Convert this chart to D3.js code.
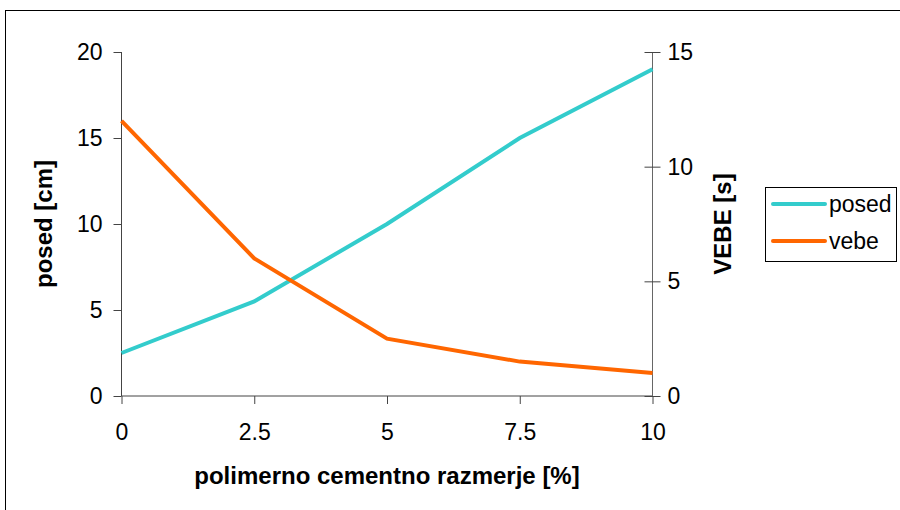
<!DOCTYPE html>
<html><head><meta charset="utf-8">
<script src="https://cdn.jsdelivr.net/npm/d3@7"></script>
<style>body{margin:0;background:#fff}svg{display:block}text{font-family:Arial,"Liberation Sans",sans-serif}</style>
</head><body><div id="c"></div>
<script>
const xValues = [0, 2.5, 5, 7.5, 10];
const posedValues = [2.5, 5.5, 10, 15, 19];
const vebeValues = [12, 6, 2.5, 1.5, 1];
const xTicks = [0, 2.5, 5, 7.5, 10];
const leftTicks = [0, 5, 10, 15, 20];
const rightTicks = [0, 5, 10, 15];
const seriesNames = ["posed", "vebe"];
const colors = ["#33CCCC", "#FF6600"];

const W = 900, H = 510;
const svg = d3.select("#c").append("svg").attr("width", W).attr("height", H);
svg.append("rect").attr("x", 5.5).attr("y", 10.5).attr("width", 900).attr("height", 510)
  .attr("fill", "#fff").attr("stroke", "#000").attr("stroke-width", 1);

const x = d3.scaleLinear().domain([0, 10]).range([121.5, 652.5]);
const yL = d3.scaleLinear().domain([0, 20]).range([396, 52]);
const yR = d3.scaleLinear().domain([0, 15]).range([396, 52]);

const fmt = d => String(d);
const gx = svg.append("g").attr("transform", "translate(0,396)")
  .call(d3.axisBottom(x).tickValues(xTicks).tickFormat(fmt).tickSize(8).tickPadding(20));
const gl = svg.append("g").attr("transform", "translate(121.5,0)")
  .call(d3.axisLeft(yL).tickValues(leftTicks).tickFormat(fmt).tickSize(8).tickPadding(11));
const gr = svg.append("g").attr("transform", "translate(652.5,0)")
  .call(d3.axisRight(yR).tickValues(rightTicks).tickFormat(fmt).tickSize(8).tickPadding(7));
gr.selectAll(".tick line").attr("x1", -8);
[gx, gl, gr].forEach(g => {
  g.select(".domain").attr("stroke", "#444");
  g.selectAll(".tick line").attr("stroke", "#444");
  g.selectAll(".tick text").attr("font-size", 23).attr("fill", "#000")
    .style("font-family", "Arial, 'Liberation Sans', sans-serif");
});
gl.select(".domain").attr("d", "M0,52V396");
gx.select(".domain").attr("d", "M121.5,0H652.5");
gr.select(".domain").attr("d", "M0,52V396").attr("stroke", "#666");

const line = (ys) => d3.line().x((d, i) => x(xValues[i])).y(d => ys(d));
svg.append("path").datum(posedValues).attr("d", line(yL)).attr("fill", "none")
  .attr("stroke", colors[0]).attr("stroke-width", 4);
svg.append("path").datum(vebeValues).attr("d", line(yR)).attr("fill", "none")
  .attr("stroke", colors[1]).attr("stroke-width", 4);

svg.append("text").attr("x", 387).attr("y", 484).attr("text-anchor", "middle")
  .attr("font-size", 24).attr("font-weight", "bold").text("polimerno cementno razmerje [%]");
svg.append("text").attr("transform", "translate(52,224) rotate(-90)").attr("text-anchor", "middle")
  .attr("font-size", 24).attr("font-weight", "bold").text("posed [cm]");
svg.append("text").attr("transform", "translate(731,224) rotate(-90)").attr("text-anchor", "middle")
  .attr("font-size", 24).attr("font-weight", "bold").text("VEBE [s]");

const lg = svg.append("g");
lg.append("rect").attr("x", 765.5).attr("y", 187.5).attr("width", 131).attr("height", 74)
  .attr("fill", "#fff").attr("stroke", "#000");
seriesNames.forEach((n, i) => {
  const yy = 204 + i * 37;
  lg.append("line").attr("x1", 773).attr("x2", 825).attr("y1", yy).attr("y2", yy)
    .attr("stroke", colors[i]).attr("stroke-width", 4).attr("stroke-linecap", "round");
  lg.append("text").attr("x", 829).attr("y", yy + 8).attr("font-size", 23).text(n);
});
</script></body></html>
